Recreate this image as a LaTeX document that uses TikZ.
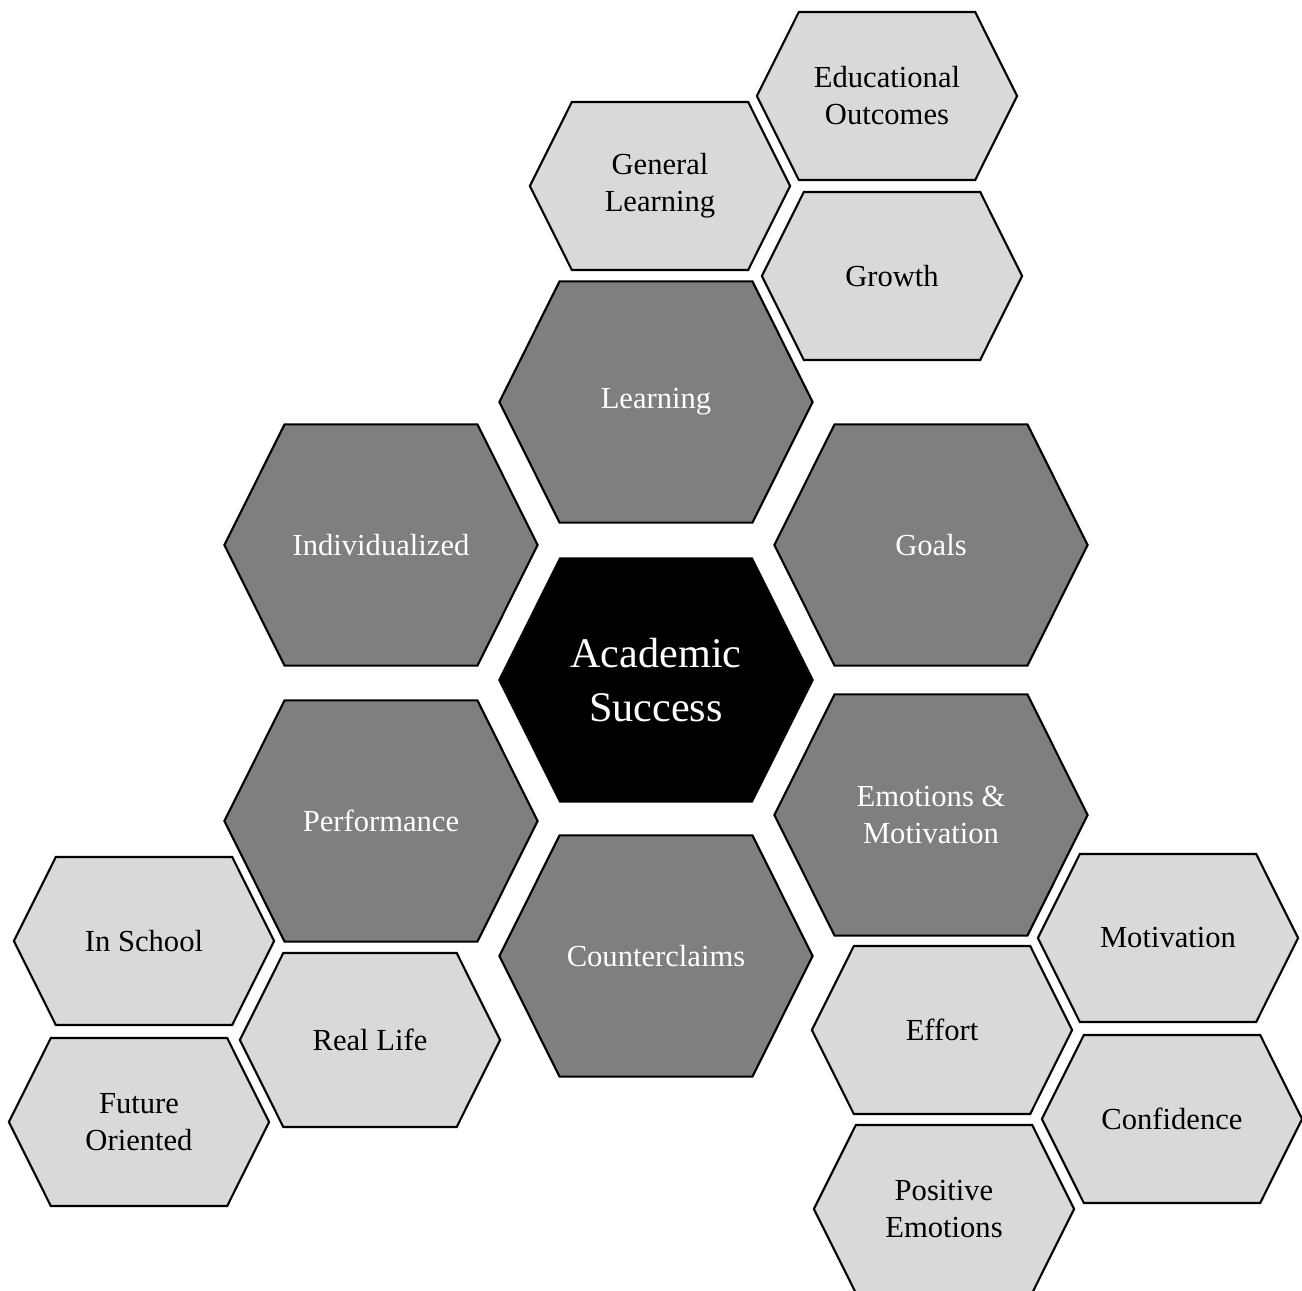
\documentclass[tikz,border=0pt]{standalone}
\usepackage{fontspec}
\setmainfont{Liberation Serif}
\usetikzlibrary{shapes.symbols}

\definecolor{darkhex}{HTML}{7F7F7F}
\definecolor{lighthex}{HTML}{D9D9D9}

\begin{document}
\begin{tikzpicture}[x=0.01cm, y=-0.01cm, hexcell/.style={signal, signal to=east and west, signal pointer angle=127, draw=black, line width=0.6pt, align=center, inner sep=0pt}, core/.style={hexcell, fill=black, text=white, minimum width=3.13cm, minimum height=2.43cm, font=\fontsize{12}{15.4}\selectfont}, theme/.style={hexcell, fill=darkhex, text=white, minimum width=3.13cm, minimum height=2.41cm, font=\fontsize{8.7}{10.5}\selectfont}, subtheme/.style={hexcell, fill=lighthex, text=black, minimum width=2.6cm, minimum height=1.68cm, font=\fontsize{8.7}{10.5}\selectfont}]
	\useasboundingbox (0,0) rectangle (1302,1291);

	% centre
	\node[core] (acad) at (656,680) {Academic\\Success};

	% themes
	\node[theme] (learn) at (656,402) {Learning}; %
	\node[theme] (indiv) at (381,545) {Individualized}; %
	\node[theme] (goals) at (931,545) {Goals}; %
	\node[theme] (perf) at (381,821) {Performance}; %
	\node[theme] (emot) at (931,815) {Emotions \&\\Motivation}; %
	\node[theme] (counter) at (656,956) {Counterclaims}; %

	% sub themes of learning
	\node[subtheme] (genlearn) at (660,186) {General\\Learning}; %
	\node[subtheme] (eduout) at (887,96) {Educational\\Outcomes}; %
	\node[subtheme] (growth) at (892,276) {Growth}; %

	% sub themes of performance
	\node[subtheme] (school) at (144,941) {In School}; %
	\node[subtheme, minimum height=1.74cm] (reallife) at (370,1040) {Real Life}; %
	\node[subtheme] (future) at (139,1122) {Future\\Oriented}; %

	% sub themes of emotions
	\node[subtheme] (motiv) at (1168,938) {Motivation}; %
	\node[subtheme] (effort) at (942,1030) {Effort}; %
	\node[subtheme] (confid) at (1172,1119) {Confidence}; %
	\node[subtheme] (posemot) at (944,1209) {Positive\\Emotions}; %
\end{tikzpicture}
\end{document}
